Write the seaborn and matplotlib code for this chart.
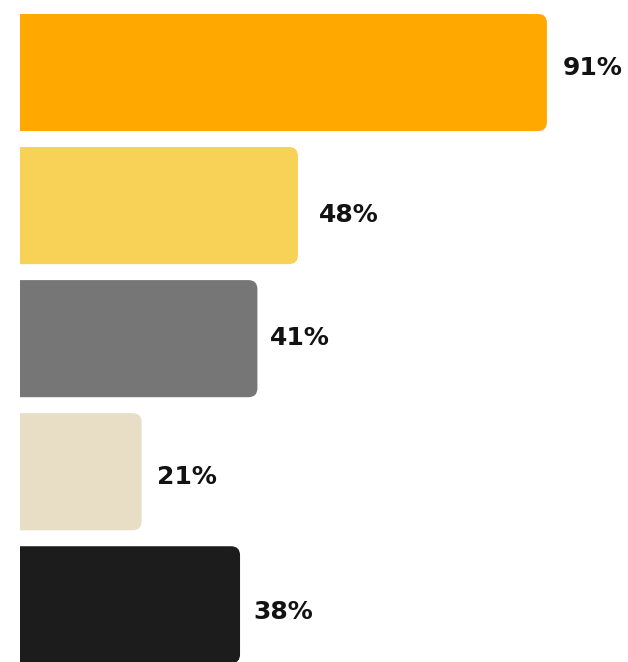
import matplotlib
matplotlib.use("Agg")
import matplotlib.pyplot as plt
from matplotlib.patches import FancyBboxPatch
import seaborn as sns
import pandas as pd

# Survey shares, top to bottom
categories = ["A", "B", "C", "D", "E"]
values = [91, 48, 41, 21, 38]
labels = ["91%", "48%", "41%", "21%", "38%"]
colors = ["#FFA800", "#F8D157", "#767676", "#E8DDC5", "#1C1C1C"]

# hand-placed nudges for the value labels (pixels from the bar end / bar centre)
label_dx = [16, 21, 13, 15, 13]
label_dy = [-5, 9, -1, 5, 7]

df = pd.DataFrame({"cat": categories, "val": values})

sns.set_theme(style="white")
plt.rcParams["font.family"] = ["DejaVu Sans"]

W, H = 628, 662
fig = plt.figure(figsize=(W / 100, H / 100), dpi=100)
ax = fig.add_axes([20 / W, 0, 1 - 20 / W, 1])

sns.barplot(data=df, x="val", y="cat", hue="cat", palette=colors,
            orient="h", width=0.88, legend=False, ax=ax, saturation=1)

ax.set_xlim(0, 105)
ax.set_ylim(4.43, -0.545)

# swap each bar for a rounded version; the left rounding falls outside the axes
px_per_x = (W - 20) / 105
px_per_y = H / (4.43 + 0.545)
r_px = 9
rx = r_px / px_per_x
aspect = (r_px / px_per_y) / rx
for patch in list(ax.patches):
    x0, y0 = patch.get_x(), patch.get_y()
    w, h = patch.get_width(), patch.get_height()
    fc = patch.get_facecolor()
    patch.remove()
    box = FancyBboxPatch((x0 - 3 * rx, y0), w + 3 * rx, h,
                         boxstyle=f"round,pad=0,rounding_size={rx}",
                         mutation_aspect=aspect, facecolor=fc,
                         edgecolor="none", clip_on=True)
    ax.add_patch(box)

for i, (v, lab) in enumerate(zip(values, labels)):
    ax.annotate(lab, xy=(v, i), xytext=(label_dx[i], -label_dy[i]),
                textcoords="offset pixels", ha="left", va="center",
                fontsize=18, fontweight="bold", color="#121212")

ax.set_axis_off()
fig.savefig("out.png", dpi=100, facecolor="white")
